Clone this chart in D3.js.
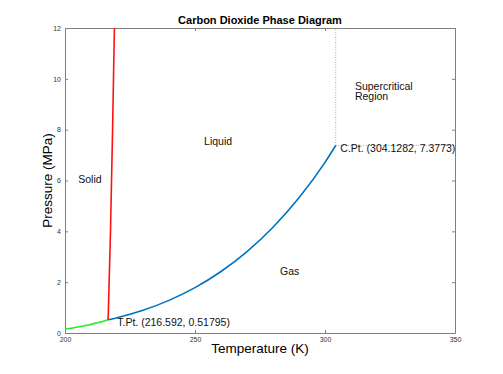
<!DOCTYPE html>
<html>
<head>
<meta charset="utf-8">
<script src="https://cdn.jsdelivr.net/npm/d3@7"></script>
<style>
  body { margin: 0; background: #fff; }
  text { font-family: Helvetica, Arial, "Liberation Sans", sans-serif; }
</style>
</head>
<body>
<div id="chart"></div>
<script>
// sublimation curve (solid-gas), K / MPa
const subT = [200, 203, 206, 209, 212, 214.5, 216.592]
const subP = [0.155, 0.2, 0.255, 0.315, 0.39, 0.45, 0.51795]
// melting curve (solid-liquid)
const meltT = [216.592, 217.5, 218.3, 219.0]
const meltP = [0.51795, 4, 8, 12]
// vaporization curve (liquid-gas)
const vapT = [216.592, 220, 230, 240, 250, 260, 270, 280, 290, 300, 304.1282]
const vapP = [0.51795, 0.599, 0.893, 1.283, 1.785, 2.419, 3.203, 4.161, 5.318, 6.713, 7.3773]

const triple = [216.592, 0.51795]
const critical = [304.1282, 7.3773]

const xTicks = [200, 250, 300, 350]
const yTicks = [0, 2, 4, 6, 8, 10, 12]

// annotations [label, T, P]
const labels = [
  ['Solid', 205.1, 6.05],
  ['Liquid', 253.5, 7.55],
  ['Gas', 282.7, 2.42],
  ['T.Pt. (216.592, 0.51795)', 220.1, 0.41],
  ['C.Pt. (304.1282, 7.3773)', 305.9, 7.25]
]

const width = 503
const height = 374
const margin = { left: 65, right: 48, top: 28, bottom: 41 }
const innerWidth = width - margin.left - margin.right
const innerHeight = height - margin.top - margin.bottom

const svg = d3.select('#chart')
  .append('svg')
  .attr('width', width)
  .attr('height', height)

const g = svg.append('g')
  .attr('transform', `translate(${margin.left},${margin.top})`)

const x = d3.scaleLinear().domain([200, 350]).range([0, innerWidth])
const y = d3.scaleLinear().domain([0, 12]).range([innerHeight, 0])

const axisColor = '#7f7f7f'

// box + inward ticks
function styleAxis (sel) {
  sel.select('.domain').attr('stroke', axisColor)
  sel.selectAll('.tick line').attr('stroke', axisColor)
  sel.selectAll('.tick text').attr('fill', '#333').style('font-size', '7px')
}

g.append('g')
  .attr('transform', `translate(0,${innerHeight})`)
  .call(d3.axisBottom(x).tickValues(xTicks).tickSize(-3).tickSizeOuter(0).tickPadding(4))
  .call(styleAxis)
g.append('g')
  .call(d3.axisLeft(y).tickValues(yTicks).tickSize(-3).tickSizeOuter(0).tickPadding(4))
  .call(styleAxis)
g.append('g')
  .call(d3.axisTop(x).tickValues(xTicks).tickSize(-3).tickSizeOuter(0).tickFormat(''))
  .call(styleAxis)
g.append('g')
  .attr('transform', `translate(${innerWidth},0)`)
  .call(d3.axisRight(y).tickValues(yTicks).tickSize(-3).tickSizeOuter(0).tickFormat(''))
  .call(styleAxis)

const line = d3.line().x(d => x(d[0])).y(d => y(d[1]))
const smooth = d3.line().x(d => x(d[0])).y(d => y(d[1])).curve(d3.curveMonotoneX)

// dotted critical boundaries
g.append('path')
  .attr('d', line([critical, [critical[0], 12]]))
  .attr('stroke', '#aaa').attr('stroke-dasharray', '1,1.5').attr('fill', 'none')
g.append('path')
  .attr('d', line([critical, [350, critical[1]]]))
  .attr('stroke', '#aaa').attr('stroke-dasharray', '1,1.5').attr('fill', 'none')

const curves = [
  { T: subT, P: subP, color: '#22ee22' },
  { T: meltT, P: meltP, color: '#ff1111' },
  { T: vapT, P: vapP, color: '#0072bd' }
]
curves.forEach(c => {
  g.append('path')
    .attr('d', smooth(c.T.map((t, i) => [t, c.P[i]])))
    .attr('stroke', c.color)
    .attr('stroke-width', 1.6)
    .attr('fill', 'none')
})

labels.forEach(l => {
  g.append('text')
    .attr('x', x(l[1]))
    .attr('y', y(l[2]))
    .attr('dy', '0.35em')
    .style('font-size', '10.5px')
    .attr('fill', '#111')
    .text(l[0])
})

const sc = g.append('text')
  .attr('x', x(311.5))
  .attr('y', y(9.5))
  .style('font-size', '10.5px')
  .attr('fill', '#111')
sc.append('tspan').attr('x', x(311.5)).attr('dy', '-0.15em').text('Supercritical')
sc.append('tspan').attr('x', x(311.5)).attr('dy', '1.0em').text('Region')

svg.append('text')
  .attr('x', margin.left + innerWidth / 2)
  .attr('y', 24)
  .attr('text-anchor', 'middle')
  .style('font-size', '11px')
  .style('font-weight', 'bold')
  .text('Carbon Dioxide Phase Diagram')

svg.append('text')
  .attr('x', margin.left + innerWidth / 2)
  .attr('y', 353)
  .attr('text-anchor', 'middle')
  .style('font-size', '13.5px')
  .text('Temperature (K)')

svg.append('text')
  .attr('transform', `translate(52,${margin.top + innerHeight / 2}) rotate(-90)`)
  .attr('text-anchor', 'middle')
  .style('font-size', '13.5px')
  .text('Pressure (MPa)')
</script>
</body>
</html>
